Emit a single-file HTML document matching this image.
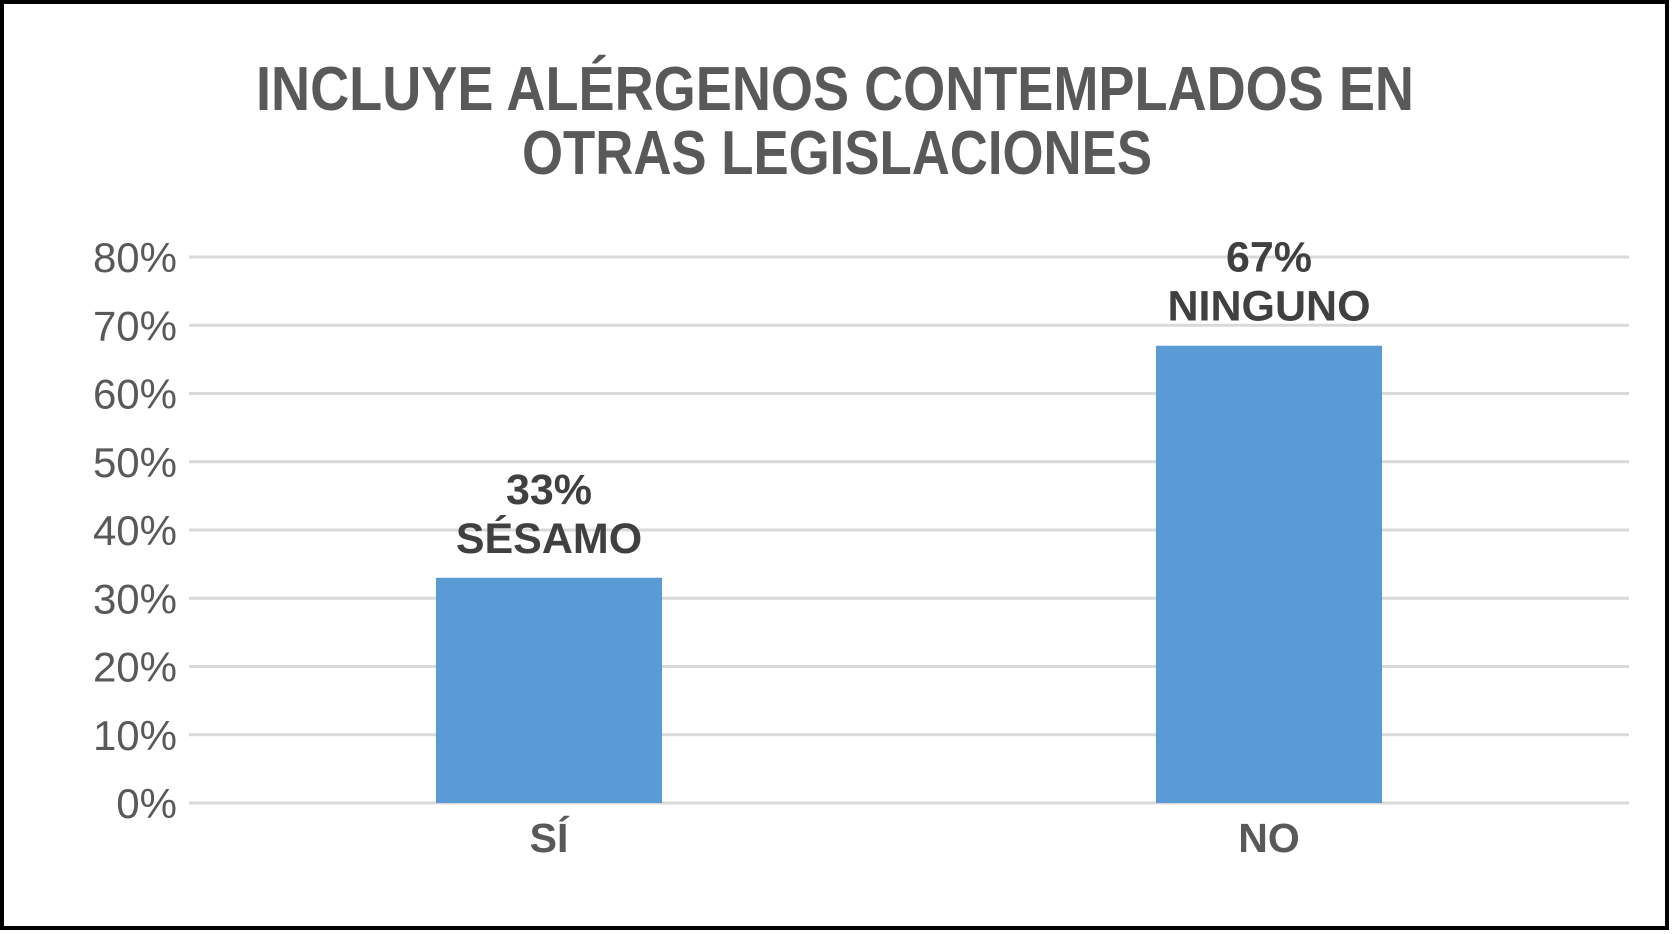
<!DOCTYPE html>
<html><head><meta charset="utf-8"><style>
html,body{margin:0;padding:0;background:#fff;}
svg{display:block;}
</style></head><body>
<svg id="chart" width="1673" height="934" xmlns="http://www.w3.org/2000/svg" font-family="'Liberation Sans', sans-serif">
<rect x="2" y="2" width="1665" height="926" fill="#fff" stroke="#000" stroke-width="4"/>
<g fill="#595959" font-weight="bold" font-size="62" text-anchor="middle">
<text x="835" y="110" textLength="1158" lengthAdjust="spacingAndGlyphs">INCLUYE ALÉRGENOS CONTEMPLADOS EN</text>
<text x="837" y="174" textLength="630" lengthAdjust="spacingAndGlyphs">OTRAS LEGISLACIONES</text>
</g>
<g id="grid"></g>
<g id="yticks"></g>
<g id="bars"></g>
<g id="labels"></g>
<g id="cats"></g>
</svg>
<script>
const categories = ["SÍ", "NO"];
const values = [0.33, 0.67];
const valueLabels = ["33%", "67%"];
const nameLabels = ["SÉSAMO", "NINGUNO"];
const yTicks = [0, 0.1, 0.2, 0.3, 0.4, 0.5, 0.6, 0.7, 0.8];
const yTickLabels = ["0%", "10%", "20%", "30%", "40%", "50%", "60%", "70%", "80%"];

const NS = "http://www.w3.org/2000/svg";
const plotL = 189, plotR = 1629, y0 = 803, yMax = 257, vMax = 0.8;
function yScale(v){ return y0 - (v / vMax) * (y0 - yMax); }
const band = (plotR - plotL) / categories.length;
function xCenter(i){ return plotL + band * (i + 0.5); }
const barW = band * 0.314;
function mk(tag, attrs, parent){ const e = document.createElementNS(NS, tag); for (const k in attrs) e.setAttribute(k, attrs[k]); parent.appendChild(e); return e; }

const grid = document.getElementById('grid'), yt = document.getElementById('yticks');
yTicks.forEach((t, i) => {
  const y = yScale(t);
  const l = mk('line', {x1: plotL, x2: plotR, y1: y, y2: y, stroke: '#d9d9d9', 'stroke-width': 3}, grid);
  
  
  const tx = mk('text', {x: 177, y: y + 15, 'text-anchor': 'end', 'font-size': 42, fill: '#595959'}, yt);
  
  
  tx.textContent = yTickLabels[i];
});

const bars = document.getElementById('bars'), labs = document.getElementById('labels'), cats = document.getElementById('cats');
categories.forEach((c, i) => {
  const cx = xCenter(i), top = yScale(values[i]);
  const r = mk('rect', {x: cx - barW / 2, y: top, width: barW, height: y0 - top, fill: '#5b9bd5'}, bars);
  
  
  const v = mk('text', {x: cx, y: top - 74, 'text-anchor': 'middle', 'font-size': 43, 'font-weight': 'bold', fill: '#404040'}, labs);
  
  
  v.textContent = valueLabels[i];
  const n = mk('text', {x: cx, y: top - 25, 'text-anchor': 'middle', 'font-size': 43, 'font-weight': 'bold', fill: '#404040'}, labs);
  
  
  n.textContent = nameLabels[i];
  const t = mk('text', {x: cx, y: y0 + 49, 'text-anchor': 'middle', 'font-size': 41, 'font-weight': 'bold', fill: '#595959'}, cats);
  
  
  t.textContent = c;
});
</script>
</body></html>
